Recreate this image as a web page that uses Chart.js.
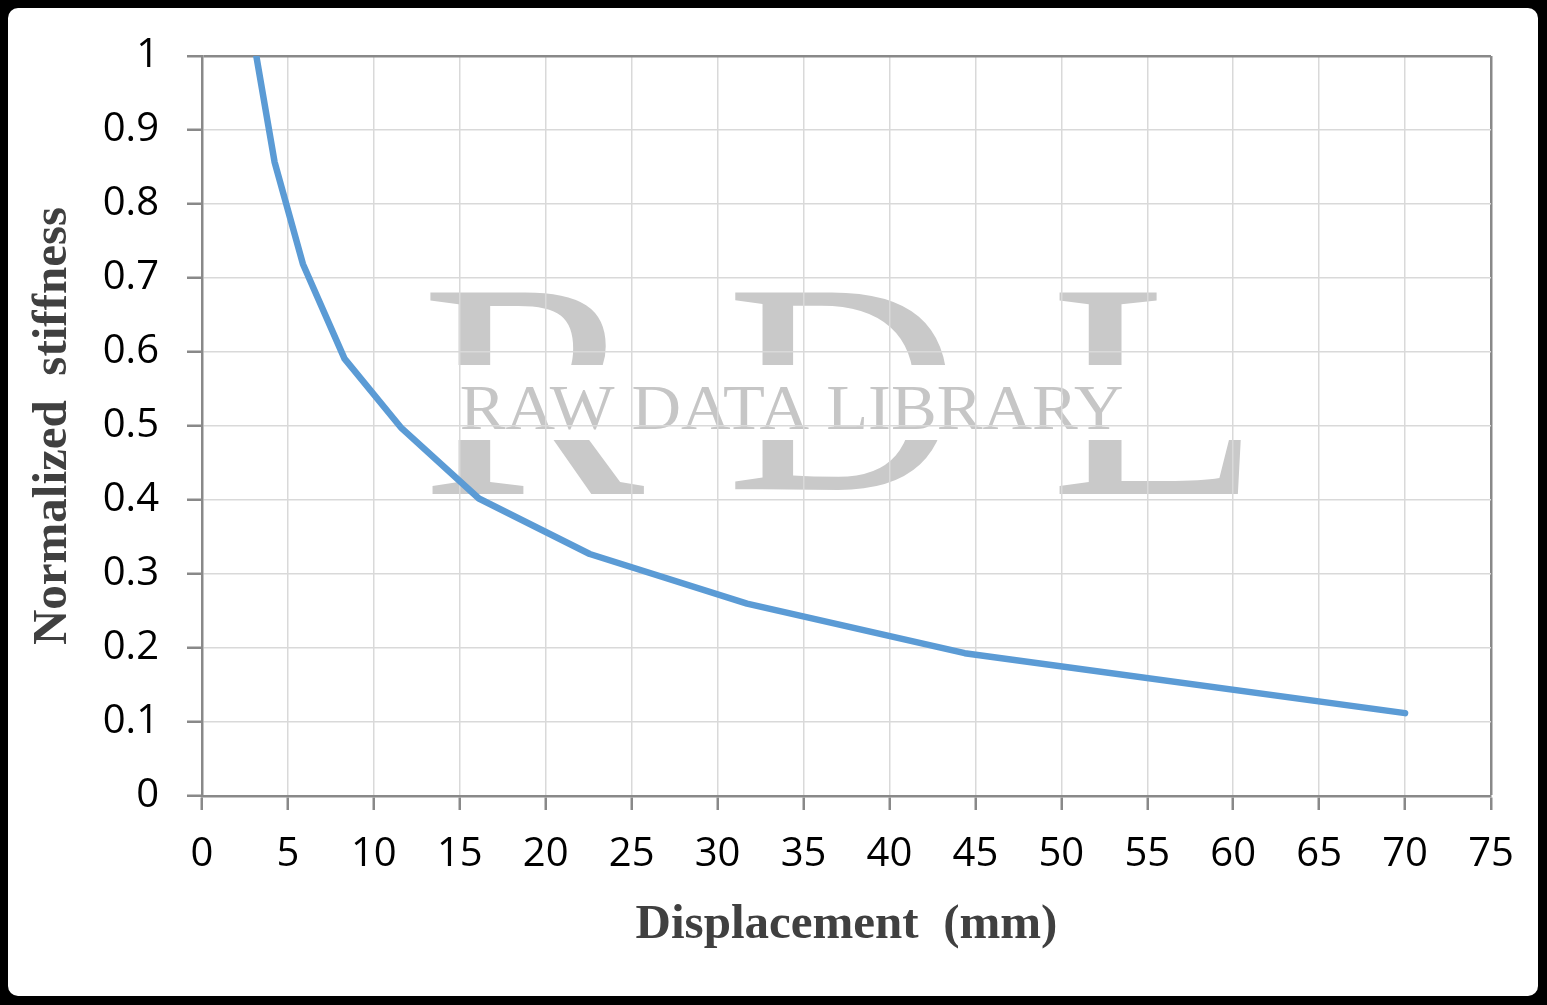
<!DOCTYPE html>
<html>
<head>
<meta charset="utf-8">
<script src="https://cdn.jsdelivr.net/npm/chart.js@4/dist/chart.umd.min.js"></script>
<style>
    html, body { margin: 0; padding: 0; background: #fff; }
    #wrap { width: 1547px; height: 1005px; position: relative; }
</style>
</head>
<body>
<div id="wrap"><canvas id="stiffChart"></canvas></div>
<script>
// Values
const displacement = [3.16, 4.22, 5.87, 8.29, 11.61, 16.11, 22.56, 31.71, 44.38, 70.0];
const stiffness = [1.0, 0.857, 0.719, 0.591, 0.497, 0.402, 0.327, 0.260, 0.193, 0.112];
const xTicks = [0, 5, 10, 15, 20, 25, 30, 35, 40, 45, 50, 55, 60, 65, 70, 75];
const yTicks = [0, 0.1, 0.2, 0.3, 0.4, 0.5, 0.6, 0.7, 0.8, 0.9, 1];
const xTitle = 'Displacement  (mm)';
const yTitle = 'Normalized  stiffness';

const axisGray = '#898989';
const gridGray = '#d9d9d9';

// draw text stretched into a box (used for the watermark)
function drawFitted(ctx, text, font, left, top, right, bottom) {
    ctx.font = font;
    ctx.textAlign = 'left';
    ctx.textBaseline = 'alphabetic';
    const m = ctx.measureText(text);
    const w = m.actualBoundingBoxLeft + m.actualBoundingBoxRight;
    const h = m.actualBoundingBoxAscent + m.actualBoundingBoxDescent;
    ctx.save();
    ctx.translate(left, top);
    ctx.scale((right - left) / w, (bottom - top) / h);
    ctx.fillText(text, m.actualBoundingBoxLeft, m.actualBoundingBoxAscent);
    ctx.restore();
}

// frame + watermark behind the chart
const backdrop = {
    id: 'backdrop',
    beforeDraw(chart) {
        const ctx = chart.ctx;
        ctx.save();
        ctx.fillStyle = '#000';
        ctx.fillRect(0, 0, chart.width, chart.height);
        ctx.fillStyle = '#fff';
        ctx.beginPath();
        ctx.roundRect(8, 8, chart.width - 17, chart.height - 17, 10);
        ctx.fill();

        ctx.fillStyle = '#c9c9c9';
        drawFitted(ctx, 'R', '300px "Liberation Serif"', 426, 292, 646, 494);
        drawFitted(ctx, 'D', '300px "Liberation Serif"', 731, 292, 949, 494);
        drawFitted(ctx, 'L', '300px "Liberation Serif"', 1055, 292, 1245, 494);
        ctx.fillStyle = '#fff';
        ctx.fillRect(420, 365, 830, 75);
        ctx.fillStyle = '#c6c6c6';
        drawFitted(ctx, 'RAW DATA LIBRARY', '60px "Liberation Serif"', 461, 388, 1122, 430);
        ctx.restore();
    }
};

const ctx = document.getElementById('stiffChart').getContext('2d');

const stiffChart = new Chart(ctx, {
    type: 'line',
    data: {
        datasets: [{
            data: displacement.map((d, i) => ({ x: d, y: stiffness[i] })),
            borderColor: '#5b9bd5',
            borderWidth: 6.5,
            borderCapStyle: 'round',
            borderJoinStyle: 'round',
            pointRadius: 0,
            tension: 0,
            fill: false
        }]
    },
    options: {
        responsive: true,
        maintainAspectRatio: false,
        devicePixelRatio: 1,
        animation: false,
        layout: {
            padding: { left: 24, top: 56, right: 56, bottom: 50 }
        },
        plugins: {
            legend: { display: false },
            tooltip: { enabled: false }
        },
        scales: {
            x: {
                type: 'linear',
                min: 0,
                max: 75,
                afterBuildTicks: (scale) => { scale.ticks = xTicks.map(v => ({ value: v })); },
                afterFit: (scale) => { scale.height = 159; },
                ticks: {
                    color: '#000',
                    padding: 21,
                    maxRotation: 0,
                    autoSkip: false,
                    font: { family: '"Open Sans"', size: 40 }
                },
                grid: {
                    color: (c) => (c.tick && c.tick.value === 75 ? axisGray : gridGray),
                    lineWidth: (c) => (c.tick && c.tick.value === 75 ? 2.5 : 1.5),
                    tickColor: axisGray,
                    tickWidth: 2.5,
                    tickLength: 14
                },
                border: { color: axisGray, width: 2.5 },
                title: {
                    display: true,
                    text: xTitle,
                    color: '#404040',
                    padding: { top: 0, bottom: 0 },
                    font: { family: '"Liberation Serif"', size: 49, weight: 'bold' }
                }
            },
            y: {
                min: 0,
                max: 1,
                afterBuildTicks: (scale) => { scale.ticks = yTicks.map(v => ({ value: v })); },
                afterFit: (scale) => { scale.width = 178; },
                ticks: {
                    color: '#000',
                    padding: 28,
                    autoSkip: false,
                    font: { family: '"Open Sans"', size: 40 },
                    callback: (v) => String(Math.round(v * 10) / 10)
                },
                grid: {
                    color: (c) => (c.tick && c.tick.value === 1 ? axisGray : gridGray),
                    lineWidth: (c) => (c.tick && c.tick.value === 1 ? 2.5 : 1.5),
                    tickColor: axisGray,
                    tickWidth: 2.5,
                    tickLength: 15
                },
                border: { color: axisGray, width: 2.5 },
                title: {
                    display: true,
                    text: yTitle,
                    color: '#404040',
                    padding: { top: 0, bottom: 0 },
                    font: { family: '"Liberation Serif"', size: 49, weight: 'bold' }
                }
            }
        }
    },
    plugins: [backdrop]
});
</script>
</body>
</html>
